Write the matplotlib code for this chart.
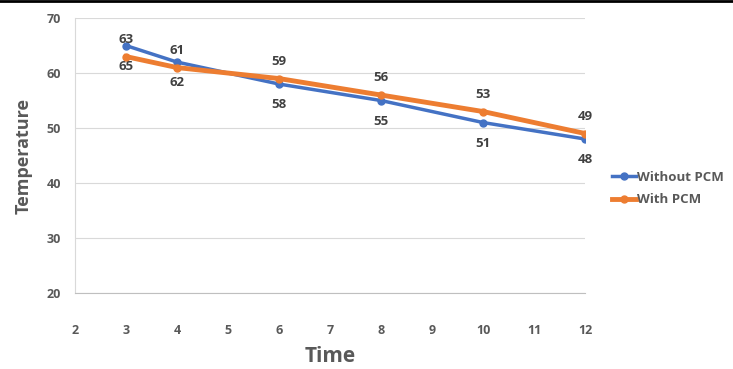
import matplotlib.pyplot as plt

# Temperature readings over time
time_without = [3, 4, 6, 8, 10, 12]
temp_without = [65, 62, 58, 55, 51, 48]
time_with = [3, 4, 6, 8, 10, 12]
temp_with = [63, 61, 59, 56, 53, 49]
x_ticks = list(range(2, 13))
y_ticks = [20, 30, 40, 50, 60, 70]

plt.rcParams['font.family'] = ['Open Sans', 'DejaVu Sans']
grey = "#595959"
label_col = "#404040"

fig = plt.figure(figsize=(7.33, 3.69), dpi=100)
ax = fig.add_axes([0.1023, 0.206, 0.696, 0.745])

ax.plot(time_without, temp_without, color="#4472C4", linewidth=2.5,
        marker="o", markersize=5, label="Without PCM", zorder=3)
ax.plot(time_with, temp_with, color="#ED7D31", linewidth=3.5,
        marker="o", markersize=5, label="With PCM", zorder=4)

for x, y in zip(time_without, temp_without):
    ax.annotate(str(y), (x, y), xytext=(0, -15), textcoords="offset points",
                ha="center", va="center", fontsize=9.5, fontweight="bold", color=label_col)
for x, y in zip(time_with, temp_with):
    ax.annotate(str(y), (x, y), xytext=(0, 12.5), textcoords="offset points",
                ha="center", va="center", fontsize=9.5, fontweight="bold", color=label_col)

ax.set_xlim(2, 12)
ax.set_ylim(20, 70)
ax.set_xticks(x_ticks)
ax.set_yticks(y_ticks)
ax.grid(True, axis="y", color="#D9D9D9", linewidth=0.8)
ax.set_axisbelow(True)
for s in ["top", "right"]:
    ax.spines[s].set_visible(False)
ax.spines["left"].set_color("#D9D9D9")
ax.spines["bottom"].set_color("#BFBFBF")
ax.tick_params(axis="both", length=0, labelsize=9, labelcolor=grey)
ax.tick_params(axis="x", pad=22)
ax.tick_params(axis="y", pad=10)
for t in ax.get_xticklabels() + ax.get_yticklabels():
    t.set_fontweight("bold")

ax.set_xlabel("Time", fontsize=15, fontweight="bold", color=grey, labelpad=7)
ax.set_ylabel("Temperature", fontsize=13, fontweight="bold", color=grey, labelpad=10)

ax.legend(loc="center left", bbox_to_anchor=(1.03, 0.38), frameon=False,
          prop={"weight": "bold", "size": 9.5}, handlelength=1.8,
          handletextpad=0.1, labelspacing=0.7, labelcolor=grey)

# thin dark rule along the top edge
fig.add_artist(plt.Line2D([0, 1], [0.997, 0.997], color="black", linewidth=2,
                          transform=fig.transFigure))

fig.savefig("out.png", dpi=100)
